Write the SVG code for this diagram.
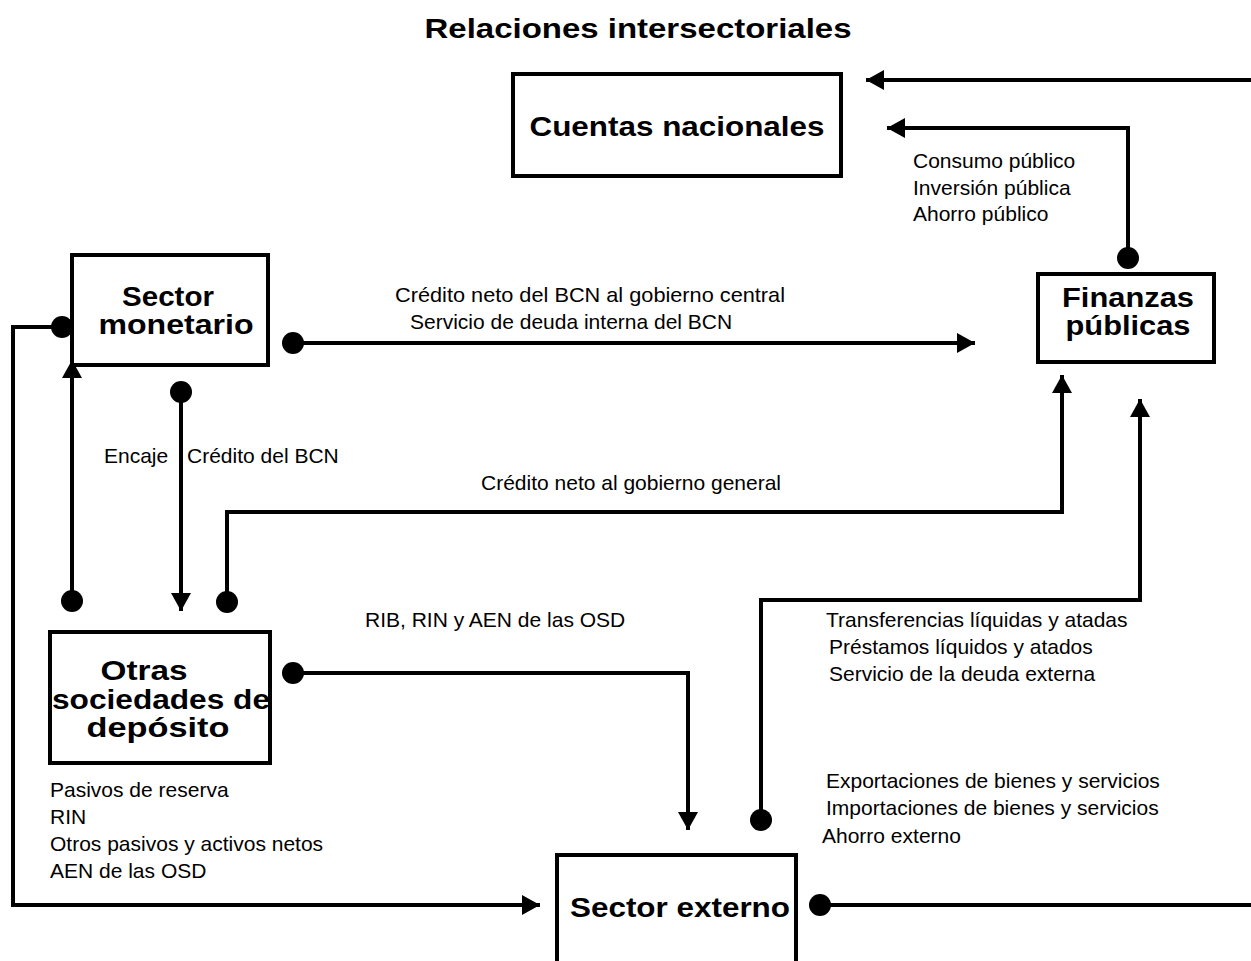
<svg xmlns="http://www.w3.org/2000/svg" width="1251" height="961" viewBox="0 0 1251 961">
<style>
.box{fill:#fff;stroke:#000;stroke-width:4}
.nt{font-family:"Liberation Sans",Arial,sans-serif;font-weight:bold;font-size:28px;text-anchor:middle;fill:#000}
.lb{font-family:"Liberation Sans",Arial,sans-serif;font-size:21px;fill:#000}
.c{fill:none;stroke:#000;stroke-width:4}
.a{marker-end:url(#ah)}
.d{marker-start:url(#dot)}
</style>
<defs>
<marker id="ah" viewBox="0 0 18 20" refX="18" refY="10" markerWidth="18" markerHeight="20" markerUnits="userSpaceOnUse" orient="auto">
<path d="M0,0 L18,10 L0,20 Z" fill="#000"/>
</marker>
<marker id="dot" viewBox="0 0 22 22" refX="11" refY="11" markerWidth="22" markerHeight="22" markerUnits="userSpaceOnUse" orient="auto">
<circle cx="11" cy="11" r="11" fill="#000"/>
</marker>
</defs>
<rect width="1251" height="961" fill="#fff"/>
<text x="638" y="38" class="nt" font-size="29" textLength="427" lengthAdjust="spacingAndGlyphs">Relaciones intersectoriales</text>

<g id="connectors">
<path class="c a" d="M1251,80 H866"/>
<path class="c a d" d="M1128,258 V128 H887"/>
<path class="c a d" d="M293,343 H975"/>
<path class="c a d" d="M62,327 H13 V905 H540"/>
<path class="c a d" d="M72,601 V360"/>
<path class="c a d" d="M181,392 V611"/>
<path class="c a d" d="M227,602 V512 H1062 V375"/>
<path class="c a d" d="M293,673 H688 V830"/>
<path class="c a d" d="M761,820 V600 H1140 V399"/>
<path class="c d" d="M820,905 H1251"/>
</g>

<g id="labels">
<text class="lb" x="913" y="168">Consumo público</text>
<text class="lb" x="913" y="195">Inversión pública</text>
<text class="lb" x="913" y="221">Ahorro público</text>
<text class="lb" x="395" y="302" textLength="390" lengthAdjust="spacingAndGlyphs">Crédito neto del BCN al gobierno central</text>
<text class="lb" x="410" y="329">Servicio de deuda interna del BCN</text>
<text class="lb" x="104" y="463">Encaje</text>
<text class="lb" x="187" y="463">Crédito del BCN</text>
<text class="lb" x="481" y="490">Crédito neto al gobierno general</text>
<text class="lb" x="365" y="627">RIB, RIN y AEN de las OSD</text>
<text class="lb" x="826" y="627">Transferencias líquidas y atadas</text>
<text class="lb" x="829" y="654">Préstamos líquidos y atados</text>
<text class="lb" x="829" y="681">Servicio de la deuda externa</text>
<text class="lb" x="826" y="788">Exportaciones de bienes y servicios</text>
<text class="lb" x="826" y="815">Importaciones de bienes y servicios</text>
<text class="lb" x="822" y="843">Ahorro externo</text>
<text class="lb" x="50" y="797">Pasivos de reserva</text>
<text class="lb" x="50" y="824">RIN</text>
<text class="lb" x="50" y="851">Otros pasivos y activos netos</text>
<text class="lb" x="50" y="878">AEN de las OSD</text>
</g>

<g id="cuentas-nacionales">
<rect class="box" x="513" y="74" width="328" height="102"/>
<text class="nt" x="677" y="136" font-size="31" textLength="295" lengthAdjust="spacingAndGlyphs">Cuentas nacionales</text>
</g>
<g id="finanzas-publicas">
<rect class="box" x="1038" y="274" width="176" height="88"/>
<text class="nt" x="1128" y="307" textLength="132" lengthAdjust="spacingAndGlyphs">Finanzas</text>
<text class="nt" x="1128" y="335" textLength="125" lengthAdjust="spacingAndGlyphs">públicas</text>
</g>
<g id="sector-monetario">
<rect class="box" x="72" y="255" width="196" height="110"/>
<text class="nt" x="168" y="306" textLength="92" lengthAdjust="spacingAndGlyphs">Sector</text>
<text class="nt" x="176" y="334" textLength="155" lengthAdjust="spacingAndGlyphs">monetario</text>
</g>
<g id="otras-sociedades">
<rect class="box" x="50" y="632" width="220" height="131"/>
<text class="nt" x="144" y="680" textLength="87" lengthAdjust="spacingAndGlyphs">Otras</text>
<text class="nt" x="161" y="709" textLength="218" lengthAdjust="spacingAndGlyphs">sociedades de</text>
<text class="nt" x="158" y="737" textLength="143" lengthAdjust="spacingAndGlyphs">depósito</text>
</g>
<g id="sector-externo">
<rect class="box" x="557" y="855" width="239" height="130"/>
<text class="nt" x="680" y="917" textLength="220" lengthAdjust="spacingAndGlyphs">Sector externo</text>
</g>
</svg>
